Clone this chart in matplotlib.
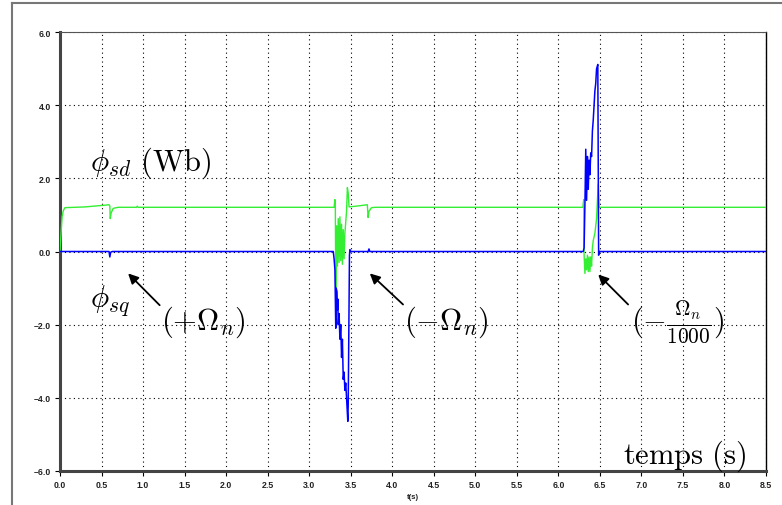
import matplotlib
matplotlib.use("Agg")
import matplotlib.pyplot as plt
from matplotlib.lines import Line2D

plt.rcParams['mathtext.fontset'] = 'cm'

# ---- data ----
green_t = [0.000, 0.010, 0.025, 0.040, 0.060, 0.300, 0.550, 0.590, 0.600, 0.605, 0.615, 0.640,
           0.700, 0.920, 0.930, 0.940, 3.300, 3.310, 3.315, 3.320, 3.330, 3.340, 3.350, 3.360,
           3.370, 3.380, 3.390, 3.400, 3.410, 3.420, 3.430, 3.440, 3.450, 3.460, 3.470, 3.480,
           3.600, 3.700, 3.710, 3.720, 3.750, 3.800, 6.295, 6.305, 6.310, 6.320, 6.330, 6.340,
           6.350, 6.360, 6.370, 6.380, 6.390, 6.400, 6.410, 6.420, 6.440, 6.460, 6.480, 6.490, 8.500]
green_v = [0.00, 0.40, 0.95, 1.12, 1.20, 1.22, 1.27, 1.28, 1.25, 0.90, 1.05, 1.18,
           1.21, 1.21, 1.24, 1.21, 1.21, 1.42, 1.20, -1.00, 0.70, -0.40, 0.90, -0.30,
           0.95, -0.25, 0.75, -0.35, 0.60, -0.20, 0.50, 0.80, 1.10, 1.75, 1.60, 1.22,
           1.25, 1.28, 0.93, 1.10, 1.20, 1.21, 1.21, 1.42, -0.10, -0.60, -0.20, -0.50,
           -0.10, -0.55, -0.15, -0.55, -0.15, -0.40, 0.10, 0.30, 0.50, 0.90, 1.85, 1.21, 1.21]

blue_t = [0.000, 0.590, 0.600, 0.610, 0.630, 3.290, 3.300, 3.310, 3.320, 3.325, 3.335, 3.340,
          3.345, 3.350, 3.360, 3.370, 3.380, 3.390, 3.400, 3.410, 3.420, 3.430, 3.440, 3.450,
          3.465, 3.470, 3.485, 3.490, 3.500, 3.710, 3.720, 3.730, 6.300, 6.310, 6.320, 6.330,
          6.340, 6.350, 6.360, 6.370, 6.380, 6.390, 6.400, 6.410, 6.420, 6.430, 6.440, 6.450,
          6.460, 6.475, 6.485, 6.490, 8.500]
blue_v = [0.00, 0.00, -0.15, -0.02, 0.00, 0.00, -0.20, -0.50, -2.10, -1.00, -1.10, -1.60,
          -1.30, -2.00, -1.70, -2.40, -2.00, -2.90, -2.40, -3.50, -3.30, -3.80, -3.60, -4.00,
          -4.65, -4.20, -0.10, 0.05, 0.00, 0.00, 0.07, 0.00, 0.00, 0.10, 1.30, 2.80,
          1.40, 2.60, 1.70, 2.50, 2.10, 2.70, 2.60, 3.30, 3.60, 4.00, 4.40, 4.60,
          5.00, 5.12, -0.10, 0.00, 0.00]

x_ticks = [0.0, 0.5, 1.0, 1.5, 2.0, 2.5, 3.0, 3.5, 4.0, 4.5, 5.0, 5.5, 6.0, 6.5, 7.0, 7.5, 8.0, 8.5]
y_ticks = [-6.0, -4.0, -2.0, 0.0, 2.0, 4.0, 6.0]
x_label = "t(s)"

fig = plt.figure(figsize=(7.82, 5.06), dpi=100)
ax = fig.add_axes([60/782, 1-471.7/506, 706/782, 438.4/506])

ax.plot(green_t, green_v, color='#33ee33', lw=1.0, zorder=3)
ax.plot(blue_t, blue_v, color='#0000ff', lw=1.1, zorder=4)

ax.set_xlim(0, 8.5)
ax.set_ylim(-6, 6)
ax.set_xticks(x_ticks)
ax.set_yticks(y_ticks)
ax.set_xticklabels([f"{v:.1f}" for v in x_ticks])
ax.set_yticklabels([f"{v:.1f}".replace('-', '\u2013') for v in y_ticks])
for lab in ax.get_xticklabels() + ax.get_yticklabels():
    lab.set_fontfamily('Liberation Sans')
    lab.set_fontweight('bold')
    lab.set_fontsize(6.3)
    lab.set_color('#222222')
ax.tick_params(direction='out', length=3.5, width=0.8, pad=3)
ax.grid(True, color='black', linestyle=(0, (1, 3)), linewidth=0.8)

for s in ['left', 'bottom']:
    ax.spines[s].set_linewidth(2.2)
    ax.spines[s].set_color('#444444')
ax.spines['right'].set_linewidth(1.0)
ax.spines['top'].set_linewidth(0.8)
ax.spines['top'].set_linestyle((0, (1, 1)))
ax.spines['top'].set_color('#555555')

ax.set_xlabel(x_label, fontfamily='Liberation Sans', fontweight='bold', fontsize=5.5, labelpad=3,
              color='#222222')

# annotations
fs = 22
ax.text(0.36, 2.44, r"$\phi_{sd}\ \mathrm{(Wb)}$", fontsize=fs, va='center', ha='left')
ax.text(0.36, -1.32, r"$\phi_{sq}$", fontsize=fs, va='center', ha='left')
ax.text(1.22, -1.92, r"$(+\Omega_n)$", fontsize=fs, va='center', ha='left')
ax.text(4.14, -1.92, r"$(-\Omega_n)$", fontsize=fs, va='center', ha='left')
ax.text(6.88, -1.89, r"$(-\frac{\Omega_n}{1000})$", fontsize=fs, va='center', ha='left')
ax.text(8.27, -5.59, r"$\mathrm{temps\ (s)}$", fontsize=fs, va='center', ha='right')

arrows = [((0.82, -0.60), (1.20, -1.47)),
          ((3.73, -0.60), (4.13, -1.45)),
          ((6.48, -0.63), (6.84, -1.45))]
for head, tail in arrows:
    ax.annotate("", xy=head, xytext=tail,
                arrowprops=dict(arrowstyle='-|>', color='black', lw=1.3,
                                mutation_scale=15, shrinkA=0, shrinkB=0))

# outer frame (left and top edges)
fig.add_artist(Line2D([12/782, 12/782], [0, 1-4/506], transform=fig.transFigure,
                      color='#777777', lw=1.5))
fig.add_artist(Line2D([12/782, 1], [1-4/506, 1-4/506], transform=fig.transFigure,
                      color='#777777', lw=1.5))

fig.savefig("out.png", dpi=100)
